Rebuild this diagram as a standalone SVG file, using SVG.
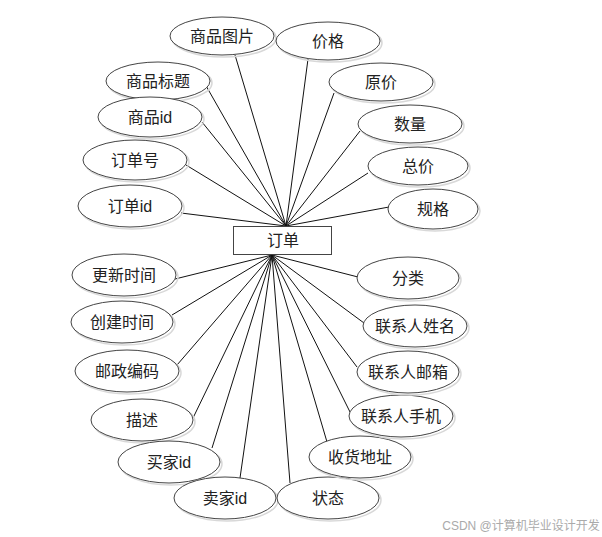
<svg xmlns="http://www.w3.org/2000/svg" width="602" height="537" viewBox="0 0 602 537">
<style>
.e ellipse.s{fill:none;stroke:#d8d8d8;stroke-width:1.5}
.e ellipse.m{fill:#fff;stroke:#444;stroke-width:1}
text{font-family:"Liberation Sans","Noto Sans CJK SC",sans-serif;font-size:16px;fill:#222;text-anchor:middle;dominant-baseline:central}
#conn line{stroke:#111;stroke-width:1}
</style>
<rect width="602" height="537" fill="#fff"/>
<g id="conn">
<line x1="286" y1="226" x2="235" y2="55"/>
<line x1="286" y1="226" x2="308" y2="59"/>
<line x1="286" y1="226" x2="334" y2="93"/>
<line x1="286" y1="226" x2="360" y2="131"/>
<line x1="286" y1="226" x2="368" y2="173"/>
<line x1="286" y1="226" x2="389" y2="207"/>
<line x1="286" y1="226" x2="205" y2="84"/>
<line x1="286" y1="226" x2="202" y2="122"/>
<line x1="286" y1="226" x2="186" y2="165"/>
<line x1="286" y1="226" x2="181" y2="213"/>
<line x1="272" y1="255" x2="175" y2="279"/>
<line x1="272" y1="255" x2="172" y2="315"/>
<line x1="272" y1="255" x2="177" y2="365"/>
<line x1="272" y1="255" x2="193" y2="418"/>
<line x1="272" y1="255" x2="212" y2="448"/>
<line x1="272" y1="255" x2="240" y2="478"/>
<line x1="272" y1="255" x2="290" y2="483"/>
<line x1="272" y1="255" x2="327" y2="442"/>
<line x1="272" y1="255" x2="350" y2="412"/>
<line x1="272" y1="255" x2="357" y2="367"/>
<line x1="272" y1="255" x2="364" y2="323"/>
<line x1="272" y1="255" x2="358" y2="277"/>
</g>
<g id="order">
<rect x="233.5" y="226.5" width="98" height="28" fill="#fff" stroke="#444" stroke-width="1"/>
<text x="283" y="240">订单</text>
</g>
<g id="n-spic" class="e"><ellipse class="s" cx="224" cy="38" rx="52" ry="19"/><ellipse class="m" cx="222" cy="36" rx="52" ry="19"/><text x="222" y="36">商品图片</text></g>
<g id="n-price" class="e"><ellipse class="s" cx="330" cy="43" rx="52" ry="19"/><ellipse class="m" cx="328" cy="41" rx="52" ry="19"/><text x="328" y="41">价格</text></g>
<g id="n-oprice" class="e"><ellipse class="s" cx="383" cy="84" rx="52" ry="19"/><ellipse class="m" cx="381" cy="82" rx="52" ry="19"/><text x="381" y="82">原价</text></g>
<g id="n-qty" class="e"><ellipse class="s" cx="412" cy="126" rx="52" ry="19"/><ellipse class="m" cx="410" cy="124" rx="52" ry="19"/><text x="410" y="124">数量</text></g>
<g id="n-total" class="e"><ellipse class="s" cx="420" cy="168" rx="50" ry="19"/><ellipse class="m" cx="418" cy="166" rx="50" ry="19"/><text x="418" y="166">总价</text></g>
<g id="n-spec" class="e"><ellipse class="s" cx="435" cy="211" rx="45" ry="20"/><ellipse class="m" cx="433" cy="209" rx="45" ry="20"/><text x="433" y="209">规格</text></g>
<g id="n-stitle" class="e"><ellipse class="s" cx="160" cy="83" rx="52" ry="19"/><ellipse class="m" cx="158" cy="81" rx="52" ry="19"/><text x="158" y="81">商品标题</text></g>
<g id="n-sid" class="e"><ellipse class="s" cx="152" cy="119" rx="52" ry="20"/><ellipse class="m" cx="150" cy="117" rx="52" ry="20"/><text x="150" y="117">商品id</text></g>
<g id="n-ono" class="e"><ellipse class="s" cx="137" cy="162" rx="52" ry="20"/><ellipse class="m" cx="135" cy="160" rx="52" ry="20"/><text x="135" y="160">订单号</text></g>
<g id="n-oid" class="e"><ellipse class="s" cx="132" cy="208" rx="52" ry="21"/><ellipse class="m" cx="130" cy="206" rx="52" ry="21"/><text x="130" y="206">订单id</text></g>
<g id="n-utime" class="e"><ellipse class="s" cx="126" cy="277" rx="52" ry="21"/><ellipse class="m" cx="124" cy="275" rx="52" ry="21"/><text x="124" y="275">更新时间</text></g>
<g id="n-ctime" class="e"><ellipse class="s" cx="124" cy="324" rx="51" ry="21"/><ellipse class="m" cx="122" cy="322" rx="51" ry="21"/><text x="122" y="322">创建时间</text></g>
<g id="n-zip" class="e"><ellipse class="s" cx="129" cy="373" rx="52" ry="21"/><ellipse class="m" cx="127" cy="371" rx="52" ry="21"/><text x="127" y="371">邮政编码</text></g>
<g id="n-desc" class="e"><ellipse class="s" cx="144" cy="422" rx="51" ry="21"/><ellipse class="m" cx="142" cy="420" rx="51" ry="21"/><text x="142" y="420">描述</text></g>
<g id="n-buyer" class="e"><ellipse class="s" cx="171" cy="464" rx="51" ry="21"/><ellipse class="m" cx="169" cy="462" rx="51" ry="21"/><text x="169" y="462">买家id</text></g>
<g id="n-seller" class="e"><ellipse class="s" cx="227" cy="500" rx="51" ry="21"/><ellipse class="m" cx="225" cy="498" rx="51" ry="21"/><text x="225" y="498">卖家id</text></g>
<g id="n-status" class="e"><ellipse class="s" cx="330" cy="500" rx="51" ry="21"/><ellipse class="m" cx="328" cy="498" rx="51" ry="21"/><text x="328" y="498">状态</text></g>
<g id="n-addr" class="e"><ellipse class="s" cx="362" cy="459" rx="51" ry="21"/><ellipse class="m" cx="360" cy="457" rx="51" ry="21"/><text x="360" y="457">收货地址</text></g>
<g id="n-phone" class="e"><ellipse class="s" cx="403" cy="418" rx="52" ry="21"/><ellipse class="m" cx="401" cy="416" rx="52" ry="21"/><text x="401" y="416">联系人手机</text></g>
<g id="n-email" class="e"><ellipse class="s" cx="410" cy="374" rx="51" ry="21"/><ellipse class="m" cx="408" cy="372" rx="51" ry="21"/><text x="408" y="372">联系人邮箱</text></g>
<g id="n-name" class="e"><ellipse class="s" cx="417" cy="328" rx="52" ry="21"/><ellipse class="m" cx="415" cy="326" rx="52" ry="21"/><text x="415" y="326">联系人姓名</text></g>
<g id="n-cat" class="e"><ellipse class="s" cx="410" cy="280" rx="51" ry="21"/><ellipse class="m" cx="408" cy="278" rx="51" ry="21"/><text x="408" y="278">分类</text></g>
<text x="521" y="526" style="font-size:12px;fill:#aaa">CSDN @计算机毕业设计开发</text>
</svg>
